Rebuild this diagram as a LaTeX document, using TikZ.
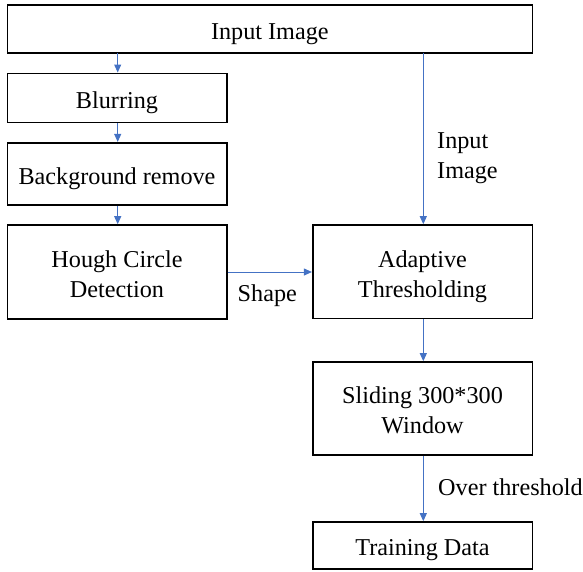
\documentclass[tikz,border=0pt]{standalone}
\usepackage{fontspec}
\setmainfont{Liberation Serif}
\usetikzlibrary{arrows.meta}
\definecolor{arrowblue}{RGB}{68,114,196}
\newcommand\boxtext[1]{\raisebox{-4.3pt}[\height][\depth]{\begin{tabular}{@{}c@{}}#1\end{tabular}}}
\begin{document}
\begin{tikzpicture}[x=1pt,y=-1pt,
  font=\fontsize{24.2}{30}\selectfont,
  box/.style={draw=black,line width=1.6pt,rectangle,inner sep=0pt,align=center},
  conn/.style={draw=arrowblue,line width=1pt,-{Triangle[length=8pt,width=7pt]}},
  lbl/.style={inner sep=0pt,align=left,anchor=west}]
\useasboundingbox (0,0) rectangle (583,571);
\node[box,minimum width=525pt,minimum height=47.7pt] (input) at (269.8,28.85) {\boxtext{Input Image}};
\node[box,minimum width=219.4pt,minimum height=49pt] (blur) at (117,97.8) {\boxtext{Blurring}};
\node[box,minimum width=219.4pt,minimum height=62.3pt] (bg) at (117,173.85) {\boxtext{Background remove}};
\node[box,minimum width=219.4pt,minimum height=94pt] (hough) at (117,272) {\boxtext{Hough Circle\\Detection}};
\node[box,minimum width=219.6pt,minimum height=93.5pt] (adapt) at (422.5,271.75) {\boxtext{Adaptive\\Thresholding}};
\node[box,minimum width=219.6pt,minimum height=93pt] (slide) at (422.5,408.5) {\boxtext{Sliding 300*300\\Window}};
\node[box,minimum width=219.6pt,minimum height=47pt] (train) at (422.5,545.5) {\boxtext{Training Data}};
\coordinate (inL) at (117.7,52.7);
\coordinate (inR) at (423.3,52.7);
\draw[conn] (inL) -- (inL |- blur.north);
\draw[conn] (blur.south -| inL) -- (bg.north -| inL);
\draw[conn] (bg.south -| inL) -- (hough.north -| inL);
\draw[conn] (inR) -- (inR |- adapt.north);
\draw[conn] (hough.east) -- (adapt.west |- hough.east);
\draw[conn] (adapt.south -| inR) -- (slide.north -| inR);
\draw[conn] (slide.south -| inR) -- (train.north -| inR);
\node[lbl] (lin) at (437,158) {Input\\Image};
\node[lbl] (lshape) at (237.5,296) {Shape};
\node[lbl] (lover) at (438,487.5) {Over threshold};
\end{tikzpicture}
\end{document}
